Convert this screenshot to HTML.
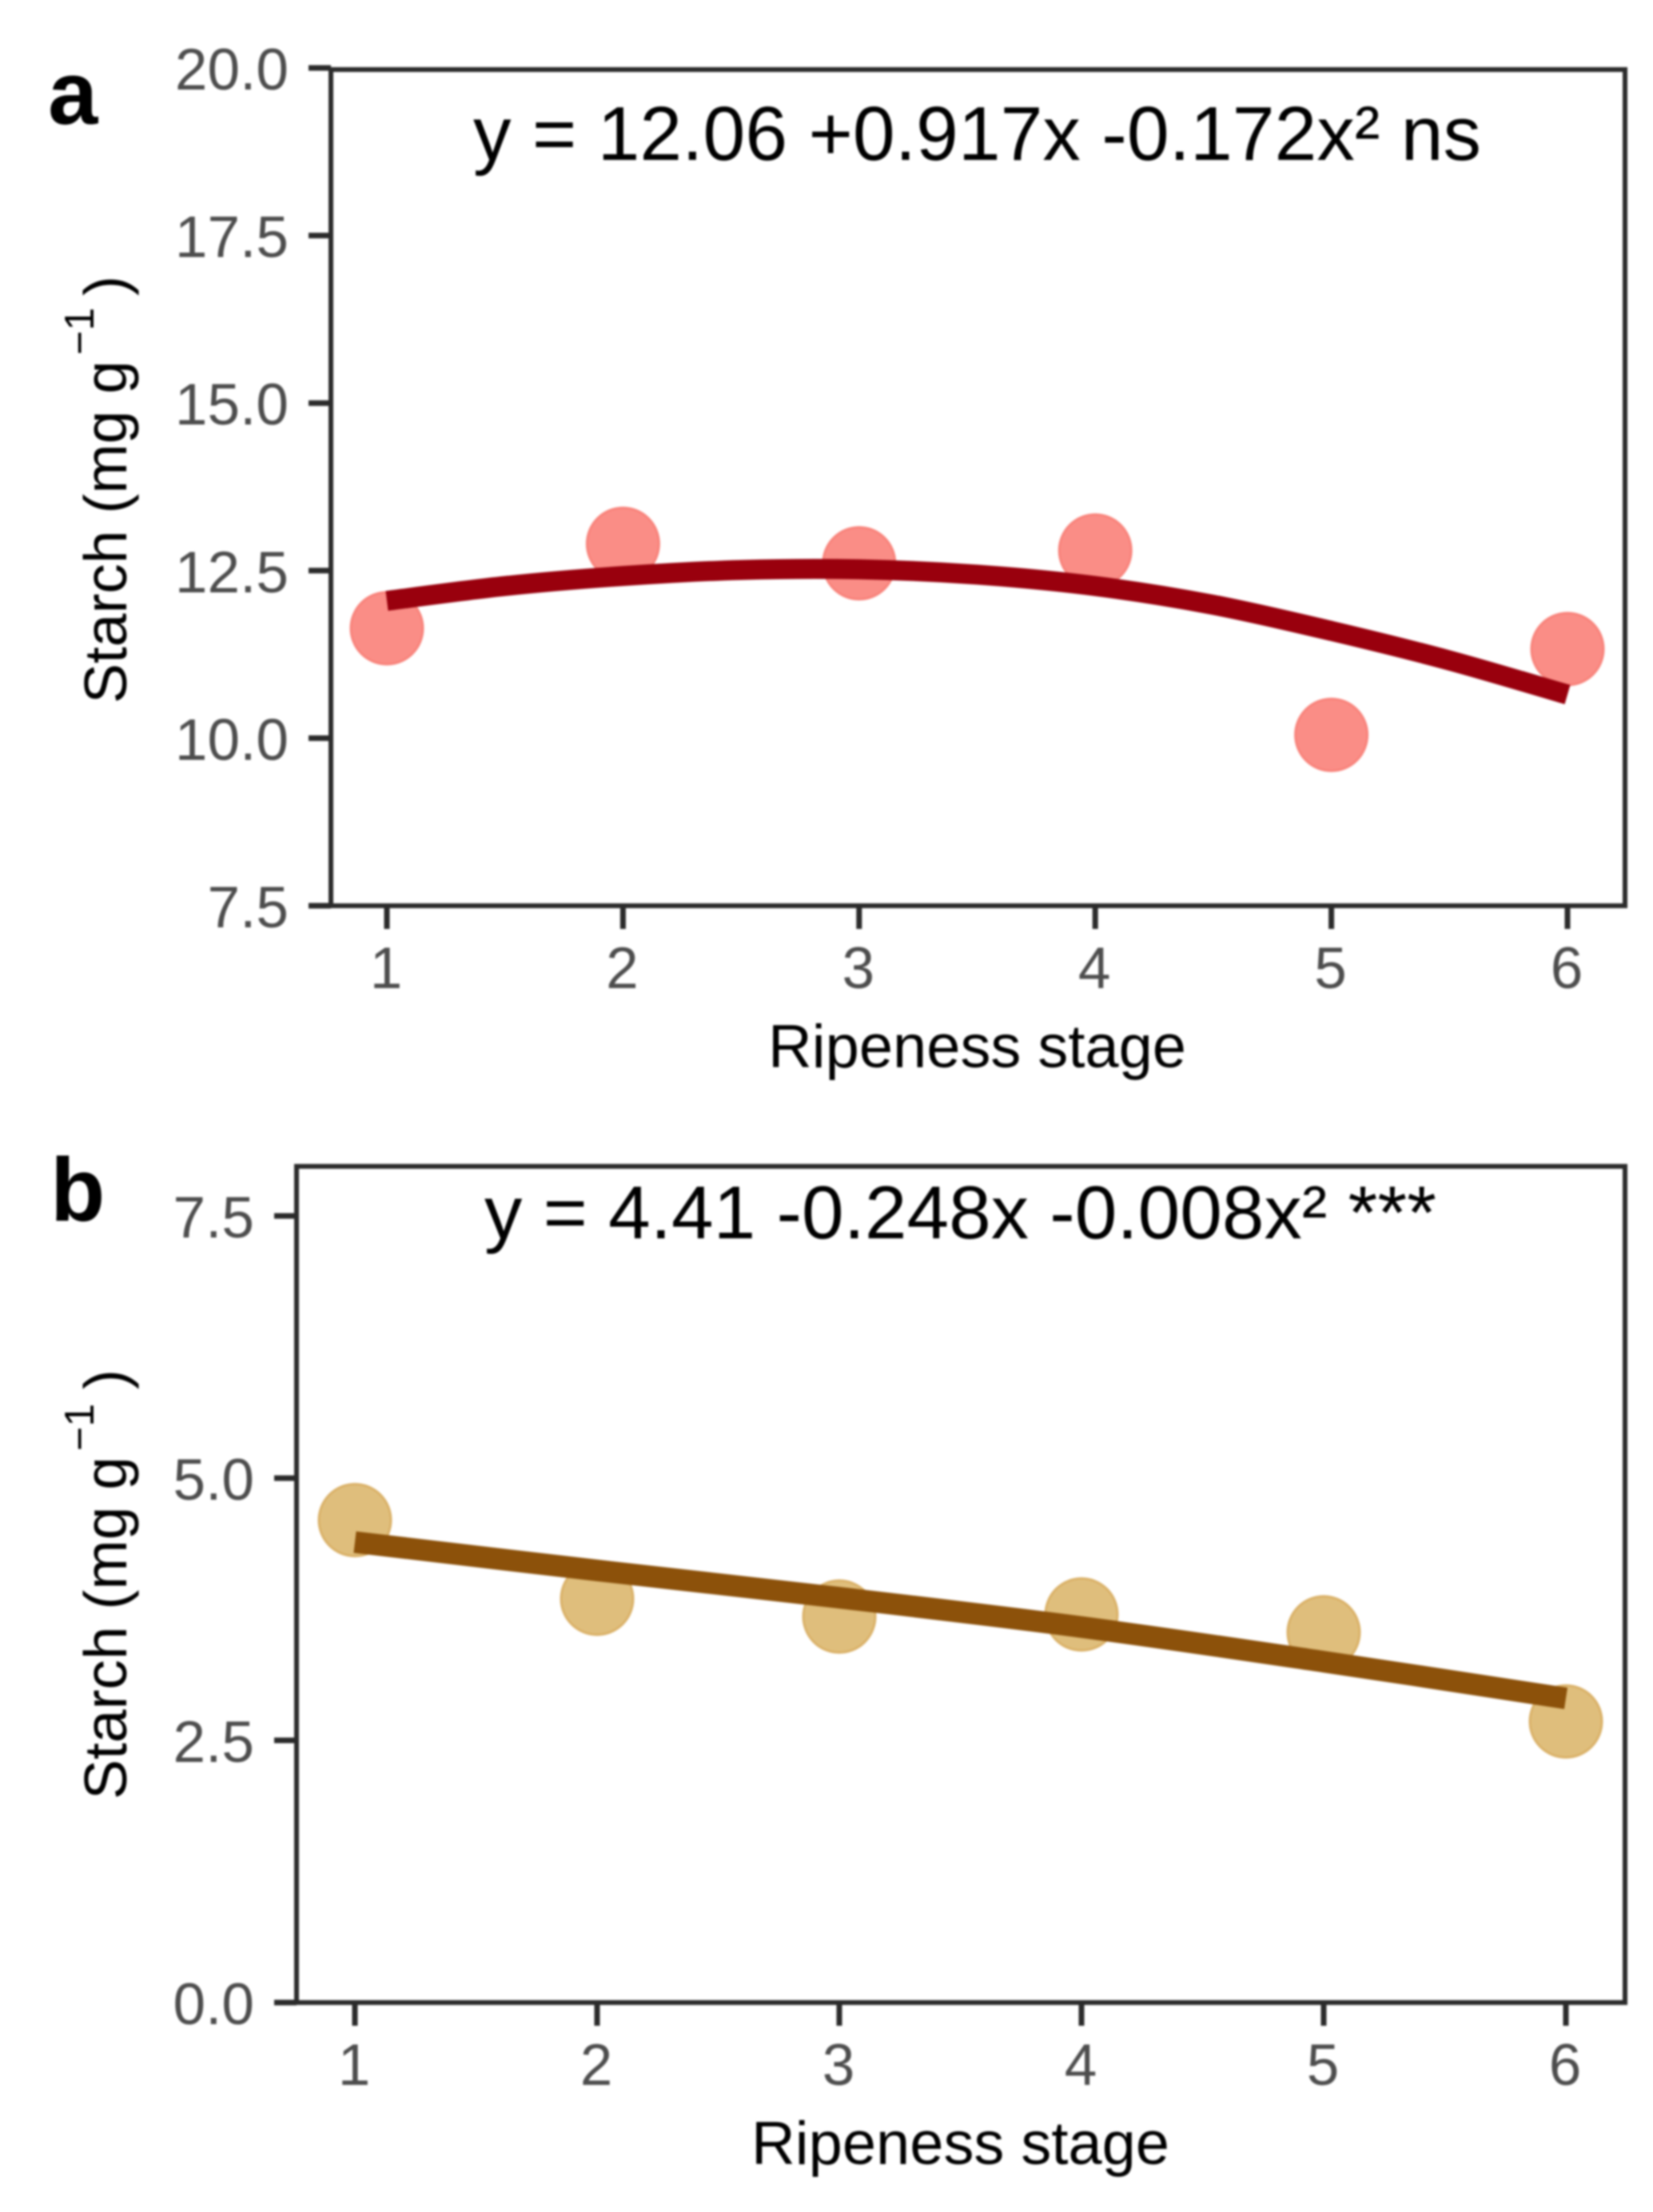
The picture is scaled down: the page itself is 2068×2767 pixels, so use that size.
<!DOCTYPE html>
<html lang="en">
<head>
<meta charset="utf-8">
<title>Starch vs ripeness stage</title>
<style>
html,body{margin:0;padding:0;background:#fff;width:2068px;height:2767px;overflow:hidden}
svg{display:block;font-family:"Liberation Sans",sans-serif;filter:blur(1.2px)}
</style>
</head>
<body>
<svg id="figure" xmlns="http://www.w3.org/2000/svg" width="2068" height="2767" viewBox="0 0 2068 2767">
  <rect x="0" y="0" width="2068" height="2767" fill="#fff"/>
  <text x="60" y="155" font-size="112" font-weight="700" fill="#000">a</text>
  <text x="63" y="1527" font-size="112" font-weight="700" fill="#000">b</text>

  <text x="592" y="200" font-size="96" fill="#000" textLength="1261" lengthAdjust="spacingAndGlyphs">y = 12.06 +0.917x -0.172x² ns</text>
  <text x="606" y="1549" font-size="94" fill="#000" textLength="1191" lengthAdjust="spacingAndGlyphs">y = 4.41 -0.248x -0.008x² ***</text>

  <text x="961" y="1335" font-size="76" fill="#000" textLength="523" lengthAdjust="spacingAndGlyphs">Ripeness stage</text>
  <text x="940" y="2707" font-size="76" fill="#000" textLength="523" lengthAdjust="spacingAndGlyphs">Ripeness stage</text>

  <g fill="#000">
    <text transform="translate(158 880) rotate(-90)" font-size="75" textLength="429" lengthAdjust="spacing">Starch (mg g</text>
    <text transform="translate(117 444) rotate(-90)" font-size="52">−1</text>
    <text transform="translate(158 370) rotate(-90)" font-size="75">)</text>
  </g>
  <g fill="#000">
    <text transform="translate(158 2251) rotate(-90)" font-size="75" textLength="429" lengthAdjust="spacing">Starch (mg g</text>
    <text transform="translate(117 1815) rotate(-90)" font-size="52">−1</text>
    <text transform="translate(158 1738) rotate(-90)" font-size="75">)</text>
  </g>
  <g id="panel-a"></g>
  <g id="panel-b"></g>
</svg>
<script>
// Panel a data
const stagesA = [1, 2, 3, 4, 5, 6];
const starchA = [11.64, 12.9, 12.61, 12.8, 10.05, 11.33];
const fitStagesA = [1, 1.5, 2, 2.5, 3, 3.5, 4, 4.5, 5, 5.5, 6];
const fitValuesA = [12.05, 12.27, 12.42, 12.51, 12.52, 12.44, 12.27, 11.99, 11.6, 11.16, 10.65];
const yTicksA = [7.5, 10, 12.5, 15, 17.5, 20];
const yTickLabelsA = ['7.5', '10.0', '12.5', '15.0', '17.5', '20.0'];

// Panel b data
const stagesB = [1, 2, 3, 4, 5, 6];
const starchB = [4.6, 3.85, 3.68, 3.7, 3.53, 2.68];
const fitStagesB = [1, 2, 3, 4, 5, 6];
const fitValuesB = [4.39, 4.12, 3.86, 3.58, 3.25, 2.9];
const yTicksB = [0, 2.5, 5, 7.5];
const yTickLabelsB = ['0.0', '2.5', '5.0', '7.5'];

const xTickLabels = ['1', '2', '3', '4', '5', '6'];

const NS = 'http://www.w3.org/2000/svg';

function smoothPath(pts) {
  let d = 'M' + pts[0][0] + ' ' + pts[0][1];
  for (let i = 0; i < pts.length - 1; i++) {
    const p0 = pts[Math.max(i - 1, 0)];
    const p1 = pts[i];
    const p2 = pts[i + 1];
    const p3 = pts[Math.min(i + 2, pts.length - 1)];
    d += ' C' + (p1[0] + (p2[0] - p0[0]) / 6) + ' ' + (p1[1] + (p2[1] - p0[1]) / 6) +
         ' ' + (p2[0] - (p3[0] - p1[0]) / 6) + ' ' + (p2[1] - (p3[1] - p1[1]) / 6) +
         ' ' + p2[0] + ' ' + p2[1];
  }
  return d;
}

function drawPanel(id, prefix, box, xFirst, xLast, yRef, stages, values, fitX, fitY, yTicks, yLabels, pointFill, pointEdge, lineColor, lineWidth) {
  const root = document.getElementById(id);
  const sx = function (s) { return xFirst + (s - 1) * (xLast - xFirst) / 5; };
  const sy = function (v) { return yRef.y0 + (v - yRef.v0) * (yRef.y1 - yRef.y0) / (yRef.v1 - yRef.v0); };

  stages.forEach(function (s, i) {
    const c = document.createElementNS(NS, 'circle');
    
    
    c.setAttribute('cx', sx(s));
    c.setAttribute('cy', sy(values[i]));
    c.setAttribute('r', 45);
    c.setAttribute('fill', pointFill);
    c.setAttribute('stroke', pointEdge);
    c.setAttribute('stroke-width', 3);
    root.appendChild(c);
  });

  const fit = document.createElementNS(NS, 'path');
  
  
  fit.setAttribute('d', smoothPath(fitX.map(function (s, i) { return [sx(s), sy(fitY[i])]; })));
  fit.setAttribute('fill', 'none');
  fit.setAttribute('stroke', lineColor);
  fit.setAttribute('stroke-width', lineWidth);
  fit.setAttribute('stroke-linejoin', 'round');
  fit.setAttribute('stroke-linecap', 'butt');
  root.appendChild(fit);

  const frame = document.createElementNS(NS, 'rect');
  
  
  frame.setAttribute('x', box.x0);
  frame.setAttribute('y', box.y0);
  frame.setAttribute('width', box.x1 - box.x0);
  frame.setAttribute('height', box.y1 - box.y0);
  frame.setAttribute('fill', 'none');
  frame.setAttribute('stroke', '#2b2b2b');
  frame.setAttribute('stroke-width', 6);
  root.appendChild(frame);

  yTicks.forEach(function (v, i) {
    const t = document.createElementNS(NS, 'line');
    
    
    t.setAttribute('x1', box.x0 - 28);
    t.setAttribute('x2', box.x0);
    t.setAttribute('y1', sy(v));
    t.setAttribute('y2', sy(v));
    t.setAttribute('stroke', '#2b2b2b');
    t.setAttribute('stroke-width', 7);
    root.appendChild(t);

    const l = document.createElementNS(NS, 'text');
    
    
    l.setAttribute('x', box.x0 - 53);
    l.setAttribute('y', sy(v) + 27);
    l.setAttribute('text-anchor', 'end');
    l.setAttribute('font-size', 73);
    l.setAttribute('fill', '#4d4d4d');
    l.textContent = yLabels[i];
    root.appendChild(l);
  });

  xTickLabels.forEach(function (lab, i) {
    const x = sx(i + 1);
    const t = document.createElementNS(NS, 'line');
    
    
    t.setAttribute('x1', x);
    t.setAttribute('x2', x);
    t.setAttribute('y1', box.y1);
    t.setAttribute('y2', box.y1 + 29);
    t.setAttribute('stroke', '#2b2b2b');
    t.setAttribute('stroke-width', 7);
    root.appendChild(t);

    const l = document.createElementNS(NS, 'text');
    
    
    l.setAttribute('x', x - 1);
    l.setAttribute('y', box.y1 + 103);
    l.setAttribute('text-anchor', 'middle');
    l.setAttribute('font-size', 73);
    l.setAttribute('fill', '#4d4d4d');
    l.textContent = lab;
    root.appendChild(l);
  });
}

drawPanel('panel-a', 'panel-a',
  { x0: 414, y0: 87, x1: 2033, y1: 1133 }, 484, 1961,
  { v0: 20, y0: 85, v1: 7.5, y1: 1133 },
  stagesA, starchA, fitStagesA, fitValuesA, yTicksA, yTickLabelsA,
  '#fa8d86', '#f8837b', '#99000d', 25);

drawPanel('panel-b', 'panel-b',
  { x0: 371, y0: 1459, x1: 2033, y1: 2505 }, 444, 1959,
  { v0: 0, y0: 2505, v1: 7.5, y1: 1521 },
  stagesB, starchB, fitStagesB, fitValuesB, yTicksB, yTickLabelsB,
  '#dfbe7c', '#dab168', '#8c510a', 27);
</script>
</body>
</html>
